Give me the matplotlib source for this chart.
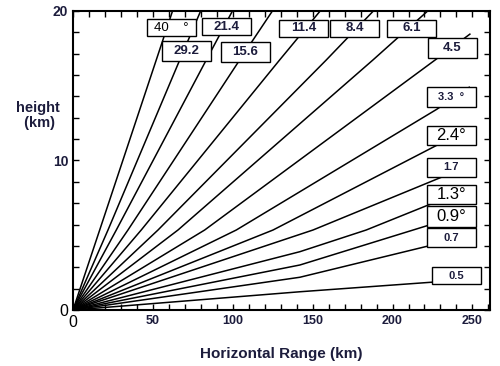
import matplotlib
matplotlib.use("Agg")
from matplotlib import pyplot as plt
from matplotlib.patches import Rectangle
from matplotlib.ticker import MultipleLocator

plt.rcParams['font.family'] = ['Liberation Sans', 'DejaVu Sans']

# elevation angle of each beam (deg)
elevations = ['40', '29.2', '21.4', '15.6', '11.4', '8.4', '6.1', '4.5',
              '3.3', '2.4', '1.7', '1.3', '0.9', '0.7', '0.5']
# points read along each beam: range (km) and height (km), starting at the radar
beam_range = [
    [0, 16.7, 52.1, 62.3],
    [0, 21.9, 66.8, 79.9],
    [0, 27.1, 83.4, 99.8],
    [0, 34.4, 104.3, 124.8],
    [0, 42.7, 129.3, 154.7],
    [0, 53.2, 158.5, 188.0],
    [0, 65.7, 187.7, 222.0],
    [0, 82.4, 228.4, 248.4],
    [0, 102.2, 227.6, 248.0],
    [0, 125.2, 227.2, 235.0],
    [0, 150.2, 231.5],
    [0, 142.0, 183.5, 222.3, 230.0],
    [0, 142.0, 225.0],
    [0, 142.0, 225.0],
    [0, 142.0, 226.0],
]
beam_height = [
    [0, 5.35, 16.72, 20.0],
    [0, 5.35, 16.72, 20.0],
    [0, 5.35, 16.72, 20.0],
    [0, 5.35, 16.72, 20.0],
    [0, 5.35, 16.72, 20.0],
    [0, 5.35, 16.72, 20.0],
    [0, 5.35, 16.72, 20.0],
    [0, 5.35, 16.86, 18.45],
    [0, 5.35, 13.42, 14.9],
    [0, 5.35, 10.99, 11.45],
    [0, 5.35, 8.92],
    [0, 3.90, 5.35, 7.02, 7.3],
    [0, 3.01, 5.75],
    [0, 2.19, 4.35],
    [0, 1.22, 1.87],
]

x_ticks = [0, 50, 100, 150, 200, 250]
y_ticks = [0, 10, 20]

# label box layout (lower-left corner in km, width, height)
box_x = [46.3, 55.7, 80.7, 92.6, 128.9, 160.8, 196.5, 222.2,
         221.5, 221.5, 221.5, 221.5, 221.5, 221.5, 224.7]
box_y = [18.33, 16.66, 18.39, 16.59, 18.26, 18.26, 18.26, 16.86,
         13.58, 11.04, 8.90, 7.09, 5.55, 4.21, 1.74]
box_h = [1.13, 1.33, 1.14, 1.33, 1.14, 1.14, 1.14, 1.33,
         1.34, 1.27, 1.27, 1.27, 1.41, 1.27, 1.13]
box_w = 30.7

navy = '#1c1c3c'
label_text = {'40': '40    °', '3.3': '3.3  °', '2.4': '2.4°', '1.3': '1.3°', '0.9': '0.9°'}
big_labels = ['2.4', '1.3', '0.9']
small_labels = ['3.3', '1.7', '0.7', '0.5']

fig = plt.figure(figsize=(5.0, 3.66), dpi=100)
ax = fig.add_axes([0.146, 0.153, 0.834, 0.817])

for i, lab in enumerate(elevations):
    ax.plot(beam_range[i], beam_height[i], color='black', lw=1.1,
            solid_joinstyle='round')

for i, lab in enumerate(elevations):
    ax.add_patch(Rectangle((box_x[i], box_y[i]), box_w, box_h[i], facecolor='white',
                           edgecolor='black', lw=1.0, zorder=5, clip_on=False))
    txt = label_text.get(lab, lab)
    if lab in big_labels:
        kw = dict(fontsize=12, fontweight='normal', color='black')
    elif lab == '40':
        kw = dict(fontsize=9.5, fontweight='normal', color='black')
    elif lab in small_labels:
        kw = dict(fontsize=8, fontweight='bold', color=navy)
    else:
        kw = dict(fontsize=9.5, fontweight='bold', color=navy)
    ax.text(box_x[i] + box_w / 2, box_y[i] + box_h[i] / 2, txt, ha='center',
            va='center', zorder=6, **kw)

ax.set_xlim(0, 261)
ax.set_ylim(0, 20)
ax.set_xticks(x_ticks)
ax.set_yticks(y_ticks)
ax.xaxis.set_minor_locator(MultipleLocator(10))
ax.yaxis.set_minor_locator(MultipleLocator(20 / 14))
ax.tick_params(which='both', direction='in', length=4, width=1,
               top=True, right=True, labelsize=9)
ax.set_xticklabels([str(v) for v in x_ticks], fontweight='bold', color=navy)
ax.set_yticklabels([str(v) for v in y_ticks], fontweight='bold', color=navy, fontsize=10)
for t in (ax.get_xticklabels()[0], ax.get_yticklabels()[0]):
    t.set_fontweight('normal')
    t.set_fontsize(11.5)
    t.set_color('black')
for s in ax.spines.values():
    s.set_linewidth(1.5)

ax.set_xlabel('Horizontal Range (km)', fontsize=11, fontweight='bold', color=navy, labelpad=12)
fig.text(0.075, 0.685, 'height\n (km)', fontsize=10.5, fontweight='bold', color=navy,
         ha='center', va='center', linespacing=1.1)

fig.savefig('out.png', dpi=100)
